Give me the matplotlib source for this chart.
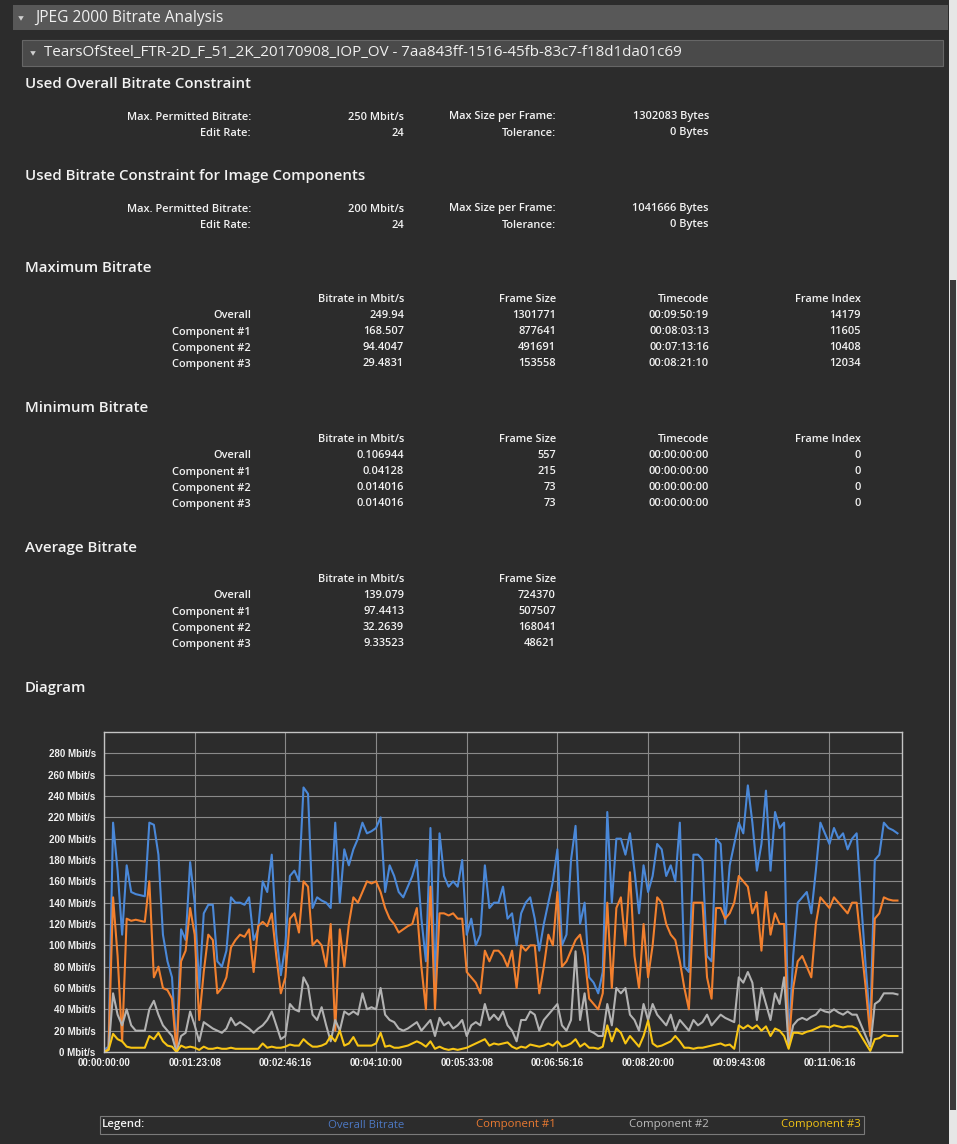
import matplotlib
matplotlib.use('Agg')
import matplotlib.pyplot as plt
import numpy as np
from matplotlib.patches import Rectangle, Polygon
from matplotlib.ticker import FuncFormatter

# Per-frame bitrate samples (Mbit/s), one value every 100 frames
overall = [
    2, 5, 215, 170, 110, 175, 150, 148, 147, 146,
    215, 213, 185, 110, 85, 70, 0, 115, 105, 178,
    140, 60, 130, 138, 138, 85, 80, 95, 145, 140,
    140, 138, 145, 105, 115, 160, 150, 185, 110, 72,
    100, 165, 170, 160, 248, 242, 135, 145, 142, 140,
    135, 215, 140, 190, 175, 190, 200, 215, 205, 207,
    210, 220, 150, 175, 165, 150, 145, 155, 165, 180,
    125, 85, 210, 60, 205, 165, 155, 160, 155, 180,
    110, 125, 100, 110, 175, 135, 140, 140, 155, 125,
    130, 100, 130, 140, 145, 125, 95, 120, 140, 160,
    190, 100, 110, 180, 212, 120, 140, 70, 65, 55,
    75, 225, 140, 200, 200, 185, 205, 170, 130, 175,
    150, 165, 195, 190, 165, 175, 160, 215, 80, 75,
    185, 185, 180, 90, 85, 200, 195, 120, 175, 195,
    215, 205, 249.94, 215, 170, 195, 245, 170, 225, 210,
    215, 7, 90, 140, 145, 150, 130, 170, 215, 205,
    195, 210, 200, 205, 190, 200, 205, 140, 80, 25,
    180, 185, 215, 210, 208, 205,
]
component1 = [
    0, 3, 145, 90, 10, 125, 123, 124, 123, 122,
    160, 70, 80, 60, 58, 50, 0, 85, 95, 135,
    110, 30, 75, 110, 105, 55, 60, 70, 98, 105,
    110, 108, 115, 75, 118, 122, 118, 130, 90, 55,
    70, 125, 130, 112, 160, 155, 100, 105, 100, 80,
    120, 20, 115, 80, 120, 145, 140, 150, 160, 158,
    160, 150, 135, 125, 120, 112, 115, 118, 120, 135,
    80, 40, 155, 40, 130, 130, 128, 130, 125, 125,
    75, 70, 65, 55, 95, 85, 95, 95, 90, 80,
    95, 60, 100, 95, 100, 100, 55, 80, 110, 100,
    150, 80, 85, 95, 105, 110, 90, 50, 45, 40,
    55, 140, 60, 135, 145, 100, 168.507, 90, 60, 120,
    70, 100, 145, 140, 120, 110, 105, 85, 60, 40,
    140, 140, 140, 70, 50, 135, 135, 125, 130, 140,
    165, 160, 155, 130, 140, 95, 150, 110, 130, 120,
    120, 5, 60, 85, 90, 80, 70, 120, 145, 140,
    135, 145, 140, 135, 130, 140, 140, 100, 60, 15,
    125, 130, 145, 143, 142, 142,
]
component2 = [
    0, 2, 55, 35, 25, 40, 25, 20, 20, 20,
    40, 48, 35, 25, 20, 15, 0, 15, 18, 38,
    25, 10, 28, 25, 22, 20, 18, 22, 32, 25,
    28, 25, 22, 18, 22, 25, 30, 38, 25, 12,
    15, 45, 40, 38, 70, 62, 35, 30, 42, 25,
    10, 30, 20, 38, 35, 38, 35, 55, 40, 42,
    40, 60, 35, 30, 28, 22, 20, 22, 25, 28,
    20, 25, 30, 15, 32, 25, 28, 22, 25, 30,
    15, 25, 28, 25, 45, 30, 35, 30, 38, 25,
    20, 10, 30, 30, 38, 35, 20, 30, 35, 40,
    45, 25, 20, 30, 94.4047, 30, 55, 20, 18, 15,
    15, 45, 25, 60, 55, 60, 35, 30, 20, 45,
    30, 45, 35, 30, 25, 35, 20, 30, 25, 20,
    30, 25, 28, 35, 25, 30, 35, 32, 30, 28,
    70, 65, 75, 65, 30, 60, 45, 30, 55, 45,
    70, 5, 25, 30, 32, 30, 33, 35, 40, 38,
    37, 40, 37, 35, 38, 35, 35, 25, 15, 5,
    45, 48, 55, 55, 55, 54,
]
component3 = [
    0, 2, 17, 12, 10, 5, 4, 4, 4, 4,
    15, 12, 18, 10, 6, 5, 0, 6, 4, 5,
    4, 2, 5, 3, 3, 4, 3, 3, 4, 3,
    3, 3, 3, 3, 3, 8, 4, 5, 4, 4,
    5, 7, 6, 6, 12, 8, 5, 5, 6, 8,
    15, 10, 20, 6, 8, 14, 6, 6, 6, 6,
    8, 18, 5, 6, 4, 4, 5, 6, 8, 10,
    8, 5, 10, 3, 5, 3, 2, 3, 2, 3,
    4, 6, 8, 10, 12, 6, 8, 7, 8, 9,
    5, 3, 5, 4, 7, 6, 5, 6, 8, 6,
    10, 5, 6, 8, 12, 5, 8, 4, 4, 3,
    5, 25, 10, 22, 18, 8, 15, 10, 5, 15,
    29.4831, 8, 5, 6, 8, 10, 15, 10, 4, 4,
    3, 4, 4, 5, 6, 7, 8, 6, 7, 3,
    25, 22, 25, 22, 25, 20, 24, 15, 22, 20,
    15, 3, 18, 18, 17, 19, 20, 22, 24, 24,
    23, 25, 24, 23, 24, 24, 22, 15, 8, 1,
    12, 13, 16, 15, 15, 15,
]
frames = np.arange(len(overall)) * 100

# Report tables
overall_constraint = [("Max. Permitted Bitrate:", "250 Mbit/s", "Max Size per Frame:", "1302083 Bytes"),
                      ("Edit Rate:", "24", "Tolerance:", "0 Bytes")]
image_constraint = [("Max. Permitted Bitrate:", "200 Mbit/s", "Max Size per Frame:", "1041666 Bytes"),
                    ("Edit Rate:", "24", "Tolerance:", "0 Bytes")]
row_names = ["Overall", "Component #1", "Component #2", "Component #3"]
max_cols = ["Bitrate in Mbit/s", "Frame Size", "Timecode", "Frame Index"]
max_rows = [("249.94", "1301771", "00:09:50:19", "14179"),
            ("168.507", "877641", "00:08:03:13", "11605"),
            ("94.4047", "491691", "00:07:13:16", "10408"),
            ("29.4831", "153558", "00:08:21:10", "12034")]
min_rows = [("0.106944", "557", "00:00:00:00", "0"),
            ("0.04128", "215", "00:00:00:00", "0"),
            ("0.014016", "73", "00:00:00:00", "0"),
            ("0.014016", "73", "00:00:00:00", "0")]
avg_cols = ["Bitrate in Mbit/s", "Frame Size"]
avg_rows = [("139.079", "724370"),
            ("97.4413", "507507"),
            ("32.2639", "168041"),
            ("9.33523", "48621")]
series_names = ["Overall Bitrate", "Component #1", "Component #2", "Component #3"]

BG = '#2c2c2c'
LINE_COLORS = ['#4a88d8', '#f2802e', '#b2b2b2', '#f8c514']
LEGEND_COLORS = ['#4d78c2', '#e97a32', '#bcbcbc', '#f2c415']
FPS = 24
W, H = 957, 1144

fig = plt.figure(figsize=(W / 100, H / 100), dpi=100, facecolor=BG)

# page overlay in pixel coordinates
page = fig.add_axes([0, 0, 1, 1])
page.set_xlim(0, W)
page.set_ylim(H, 0)
page.axis('off')
page.set_facecolor(BG)

UI = 'Open Sans'
CELL_SIZE = 7.9

def triangle(x, y, size=5.5):
    page.add_patch(Polygon([(x - size / 2, y - size / 3), (x + size / 2, y - size / 3), (x, y + size / 2)],
                           closed=True, color='#d0d0d0', lw=0))

# section header bars
page.add_patch(Rectangle((13, 5), 935, 25, color='#585858', lw=0))
triangle(21, 18)
page.text(35, 18, "JPEG 2000 Bitrate Analysis", color='#f0f0f0', fontsize=11.2, family=UI, va='center')
page.add_patch(Rectangle((22, 40), 921, 26, facecolor='#4a4a4a', edgecolor='#666666', lw=0.8))
triangle(33, 53)
page.text(44, 53, "TearsOfSteel_FTR-2D_F_51_2K_20170908_IOP_OV - 7aa843ff-1516-45fb-83c7-f18d1da01c69",
          color='#f0f0f0', fontsize=10.9, family=UI, va='center')

# scrollbar
page.add_patch(Rectangle((949, 0), 8, H, color='#e6e6e6', lw=0))
page.add_patch(Rectangle((950, 280), 6, 830, color='#3a3a3a', lw=0))

COLS = [251, 404, 556, 709, 861]

def heading(y, text):
    page.text(25, y, text, color='#f2f2f2', fontsize=10.8, family=UI, fontweight='semibold', va='center')

def cell(x, y, text, color='#f2f2f2'):
    page.text(x, y, text, color=color, fontsize=CELL_SIZE, family=UI, fontweight='semibold',
              ha='right', va='center')

heading(84, "Used Overall Bitrate Constraint")
for i, row in enumerate(overall_constraint):
    for j, txt in enumerate(row):
        cell(COLS[j], 117 + 16 * i, txt)

heading(176, "Used Bitrate Constraint for Image Components")
for i, row in enumerate(image_constraint):
    for j, txt in enumerate(row):
        cell(COLS[j], 209 + 16 * i, txt)

def stat_table(y_head, title, cols, rows):
    heading(y_head, title)
    for j, c in enumerate(cols):
        cell(COLS[j + 1], y_head + 32, c)
    for i, (name, row) in enumerate(zip(row_names, rows)):
        cell(COLS[0], y_head + 48 + 16 * i, name)
        for j, txt in enumerate(row):
            cell(COLS[j + 1], y_head + 48 + 16 * i, txt)

stat_table(268, "Maximum Bitrate", max_cols, max_rows)
stat_table(408, "Minimum Bitrate", max_cols, min_rows)
stat_table(548, "Average Bitrate", avg_cols, avg_rows)
heading(688, "Diagram")

# legend strip under the diagram
page.add_patch(Rectangle((100, 1116), 764, 18, facecolor='none', edgecolor='#7a7a7a', lw=0.8))
page.text(102, 1125, "Legend:", color='#f2f2f2', fontsize=8.2, family=UI, fontweight='semibold', va='center')
for j, (name, col) in enumerate(zip(series_names, LEGEND_COLORS)):
    page.text(COLS[j + 1], 1125, name, color=col, fontsize=8.2, family=UI, ha='right', va='center')

# bitrate diagram
ax = fig.add_axes([104 / W, 1 - 1052 / H, 798 / W, 320 / H])
ax.set_facecolor(BG)
for vals, col in zip([overall, component1, component2, component3], LINE_COLORS):
    ax.plot(frames, vals, color=col, lw=1.5)
ax.set_xlim(0, 17600)
ax.set_ylim(0, 300)
ax.set_yticks(np.arange(0, 281, 20))
ax.set_xticks(np.arange(0, 16001, 2000))
ax.grid(True, color='#8a8a8a', lw=0.8)
ax.set_axisbelow(True)
for s in ax.spines.values():
    s.set_color('#c4c4c4')
    s.set_linewidth(1.0)

def timecode(f, pos):
    f = int(round(f))
    secs, fr = divmod(f, FPS)
    mins, secs = divmod(secs, 60)
    hrs, mins = divmod(mins, 60)
    return f"{hrs:02d}:{mins:02d}:{secs:02d}:{fr:02d}"

ax.xaxis.set_major_formatter(FuncFormatter(timecode))
ax.yaxis.set_major_formatter(FuncFormatter(lambda v, p: f"{int(v)} Mbit/s"))
ax.tick_params(length=0, labelsize=7)
ax.tick_params(axis='x', pad=4)
ax.tick_params(axis='y', pad=6)
for lab in ax.get_xticklabels() + ax.get_yticklabels():
    lab.set_fontfamily('Liberation Sans')
    lab.set_fontweight('bold')
    lab.set_color('#f0f0f0')

fig.savefig('out.png', dpi=100, facecolor=BG)
